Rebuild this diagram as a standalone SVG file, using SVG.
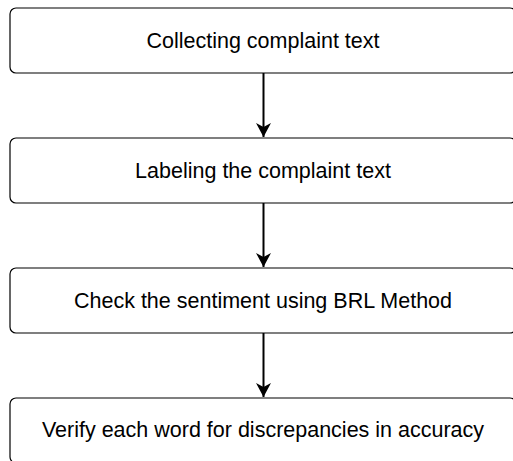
<svg xmlns="http://www.w3.org/2000/svg" width="513" height="461" viewBox="0 0 513 461">
<style>
.box{fill:#ffffff;stroke:#000000;stroke-width:1.2}
.lbl{font-family:"Liberation Sans",Arial,sans-serif;font-size:21.5px;fill:#000000;text-anchor:middle}
.edge{stroke:#000000;stroke-width:2;fill:none}
</style>
<defs>
<marker id="arr" markerUnits="userSpaceOnUse" markerWidth="16" markerHeight="16" viewBox="0 0 16 16" refX="14" refY="8" orient="auto">
<path d="M0,0.5 L14,8 L0,15.5 L4,8 Z" fill="#000000"/>
</marker>
</defs>
<rect width="513" height="461" fill="#ffffff"/>
<g id="connectors">
<path class="edge" d="M263.5,73 L263.5,137" marker-end="url(#arr)"/>
<path class="edge" d="M263.5,203 L263.5,267" marker-end="url(#arr)"/>
<path class="edge" d="M263.5,333 L263.5,397" marker-end="url(#arr)"/>
</g>
<g id="n1">
<rect class="box" x="10" y="8" width="506" height="65" rx="6" ry="6"/>
<text class="lbl" x="263" y="47.5">Collecting complaint text</text>
</g>
<g id="n2">
<rect class="box" x="10" y="138" width="506" height="65" rx="6" ry="6"/>
<text class="lbl" x="263" y="177.5">Labeling the complaint text</text>
</g>
<g id="n3">
<rect class="box" x="10" y="268" width="506" height="65" rx="6" ry="6"/>
<text class="lbl" x="263" y="307.5">Check the sentiment using BRL Method</text>
</g>
<g id="n4">
<rect class="box" x="10" y="398" width="506" height="65" rx="6" ry="6"/>
<text class="lbl" x="263" y="437">Verify each word for discrepancies in accuracy</text>
</g>
</svg>
